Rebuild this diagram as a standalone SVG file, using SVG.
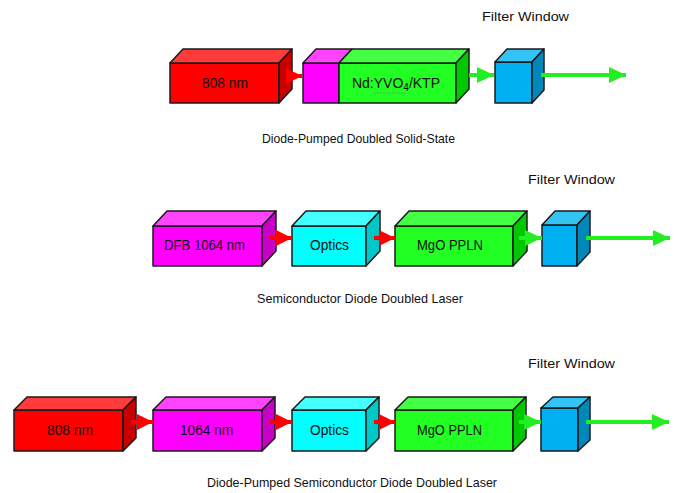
<svg xmlns="http://www.w3.org/2000/svg" width="675" height="493" viewBox="0 0 675 493">
<defs>
<style>
.f{stroke:#1a1a1a;stroke-width:1.5;stroke-linejoin:round}
.rf{fill:#ff0000}.rt{fill:#ff3b3b}.rs{fill:#c80000}
.mf{fill:#ff00ff}.mt{fill:#ff44ff}.ms{fill:#c800c8}
.cf{fill:#00ffff}.ct{fill:#44ffff}.cs{fill:#00c8c8}
.gf{fill:#22ff22}.gt{fill:#44ff44}.gs{fill:#00c800}
.bf{fill:#00b0f0}.bt{fill:#33c4f5}.bs{fill:#0088bb}
.t{font-family:"Liberation Sans",Arial,sans-serif;font-size:14px;fill:#111;text-anchor:middle}
.l{font-family:"Liberation Sans",Arial,sans-serif;font-size:13px;fill:#111}
.ra{stroke:#ff0000;stroke-width:4;fill:none}
.ga{stroke:#22ee22;stroke-width:4;fill:none}
</style>
<marker id="hr" markerUnits="userSpaceOnUse" markerWidth="18" markerHeight="18" viewBox="0 0 16 18" refX="16" refY="9" orient="auto"><path d="M0,1 L16,9 L0,17 Z" fill="#ff0000"/></marker>
<marker id="hg" markerUnits="userSpaceOnUse" markerWidth="18" markerHeight="18" viewBox="0 0 17 18" refX="17" refY="9" orient="auto"><path d="M0,1 L17,9 L0,17 Z" fill="#22ee22"/></marker>
</defs>
<rect width="675" height="493" fill="#fff"/>

<!-- Row 1 -->
<g id="r1-808">
<rect class="f rf" x="170" y="63" width="109" height="40"/>
<polygon class="f rt" points="170,63 183,49 292,49 279,63"/>
<polygon class="f rs" points="279,63 292,49 292,89 279,103"/>
<text class="t" x="225" y="88" textLength="46" lengthAdjust="spacingAndGlyphs">808 nm</text>
</g>
<g id="r1-mag">
<rect class="f mf" x="303" y="63" width="36" height="40"/>
<polygon class="f mt" points="303,63 316,49 352,49 339,63"/>
</g>
<g id="r1-nd">
<rect class="f gf" x="339" y="63" width="117" height="40"/>
<polygon class="f gt" points="339,63 352,49 469,49 456,63"/>
<polygon class="f gs" points="456,63 469,49 469,89 456,103"/>
<text class="t" x="396" y="88">Nd:YVO<tspan font-size="10" dy="3">4</tspan><tspan dy="-3">/KTP</tspan></text>
<path d="M374,93 H406" stroke="#7a7a7a" stroke-width="0.8" stroke-dasharray="1.5,1.5"/>
</g>
<g id="r1-filter">
<rect class="f bf" x="495" y="62" width="37" height="41"/>
<polygon class="f bt" points="495,62 507,49 544,49 532,62"/>
<polygon class="f bs" points="532,62 544,49 544,90 532,103"/>
</g>
<g id="r1-labels">
<text class="l" x="482" y="21" textLength="87" lengthAdjust="spacingAndGlyphs">Filter Window</text>
<text class="l" x="262" y="143" textLength="193" lengthAdjust="spacingAndGlyphs">Diode-Pumped Doubled Solid-State</text>
</g>

<!-- Row 2 -->
<g id="r2-dfb">
<rect class="f mf" x="153" y="226" width="109" height="40"/>
<polygon class="f mt" points="153,226 167,211 276,211 262,226"/>
<polygon class="f ms" points="262,226 276,211 276,251 262,266"/>
<text class="t" x="204.5" y="250" textLength="81" lengthAdjust="spacingAndGlyphs">DFB 1064 nm</text>
</g>
<g id="r2-optics">
<rect class="f cf" x="292" y="226" width="74" height="40"/>
<polygon class="f ct" points="292,226 306,211 380,211 366,226"/>
<polygon class="f cs" points="366,226 380,211 380,251 366,266"/>
<text class="t" x="329.5" y="250" textLength="39" lengthAdjust="spacingAndGlyphs">Optics</text>
</g>
<g id="r2-mgo">
<rect class="f gf" x="395" y="226" width="118" height="40"/>
<polygon class="f gt" points="395,226 409,211 527,211 513,226"/>
<polygon class="f gs" points="513,226 527,211 527,251 513,266"/>
<text class="t" x="450" y="250" textLength="66" lengthAdjust="spacingAndGlyphs">MgO PPLN</text>
</g>
<g id="r2-filter">
<rect class="f bf" x="542" y="225" width="35" height="41"/>
<polygon class="f bt" points="542,225 555,211 590,211 577,225"/>
<polygon class="f bs" points="577,225 590,211 590,252 577,266"/>
</g>
<g id="r2-labels">
<text class="l" x="528" y="184" textLength="87" lengthAdjust="spacingAndGlyphs">Filter Window</text>
<text class="l" x="257" y="303" textLength="206" lengthAdjust="spacingAndGlyphs">Semiconductor Diode Doubled Laser</text>
</g>

<!-- Row 3 -->
<g id="r3-808">
<rect class="f rf" x="14" y="410" width="109" height="41"/>
<polygon class="f rt" points="14,410 27,397 136,397 123,410"/>
<polygon class="f rs" points="123,410 136,397 136,438 123,451"/>
<text class="t" x="70" y="435" textLength="46" lengthAdjust="spacingAndGlyphs">808 nm</text>
</g>
<g id="r3-1064">
<rect class="f mf" x="153" y="410" width="109" height="41"/>
<polygon class="f mt" points="153,410 166,397 275,397 262,410"/>
<polygon class="f ms" points="262,410 275,397 275,438 262,451"/>
<text class="t" x="206.5" y="435" textLength="53" lengthAdjust="spacingAndGlyphs">1064 nm</text>
</g>
<g id="r3-optics">
<rect class="f cf" x="292" y="410" width="74" height="41"/>
<polygon class="f ct" points="292,410 305,397 379,397 366,410"/>
<polygon class="f cs" points="366,410 379,397 379,438 366,451"/>
<text class="t" x="329.5" y="435" textLength="39" lengthAdjust="spacingAndGlyphs">Optics</text>
</g>
<g id="r3-mgo">
<rect class="f gf" x="395" y="410" width="118" height="41"/>
<polygon class="f gt" points="395,410 408,397 526,397 513,410"/>
<polygon class="f gs" points="513,410 526,397 526,438 513,451"/>
<text class="t" x="449.5" y="435" textLength="65" lengthAdjust="spacingAndGlyphs">MgO PPLN</text>
</g>
<g id="r3-filter">
<rect class="f bf" x="541" y="408" width="37" height="43"/>
<polygon class="f bt" points="541,408 553,397 590,397 578,408"/>
<polygon class="f bs" points="578,408 590,397 590,440 578,451"/>
</g>
<g id="r3-labels">
<text class="l" x="528" y="368" textLength="87" lengthAdjust="spacingAndGlyphs">Filter Window</text>
<text class="l" x="207" y="487" textLength="290" lengthAdjust="spacingAndGlyphs">Diode-Pumped Semiconductor Diode Doubled Laser</text>
</g>

<!-- Connectors -->
<g id="connectors">
<path class="ra" d="M286,76 H302" marker-end="url(#hr)"/>
<path class="ga" d="M469,75 H494" marker-end="url(#hg)"/>
<path class="ga" d="M541,75 H626" marker-end="url(#hg)"/>

<path class="ra" d="M270,238 H292" marker-end="url(#hr)"/>
<path class="ra" d="M374,238 H395" marker-end="url(#hr)"/>
<path class="ga" d="M519,238 H542" marker-end="url(#hg)"/>
<path class="ga" d="M586,238 H670" marker-end="url(#hg)"/>

<path class="ra" d="M131,422 H153" marker-end="url(#hr)"/>
<path class="ra" d="M270,422 H292" marker-end="url(#hr)"/>
<path class="ra" d="M374,422 H395" marker-end="url(#hr)"/>
<path class="ga" d="M519,422 H541" marker-end="url(#hg)"/>
<path class="ga" d="M586,422 H669" marker-end="url(#hg)"/>
</g>
</svg>
